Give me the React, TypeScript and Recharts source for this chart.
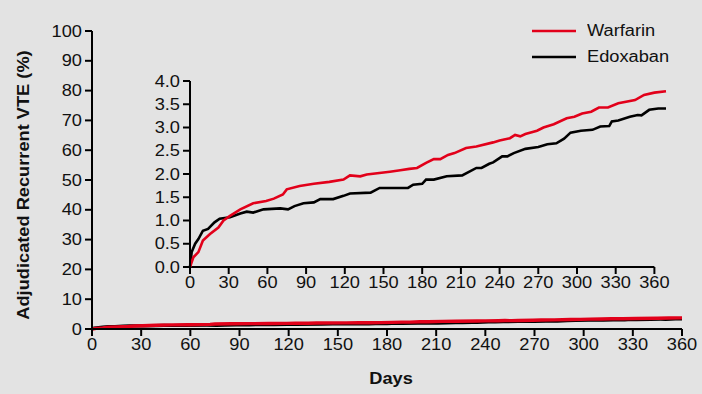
import React from "react";
import { LineChart, Line, XAxis, YAxis, ReferenceLine } from "recharts";

const warfarinDays = [0, 2.6, 6.5, 10, 15.5, 22, 26, 31, 39, 49, 59, 65, 72, 75, 85, 96, 108, 119, 124, 132, 137, 155, 163, 170, 176, 183, 189, 194, 200, 205, 214, 222, 235, 240, 248, 252, 256, 260, 269, 274, 282, 292, 298, 304, 311, 317, 324, 332, 345, 352, 360, 369];
const warfarinValues = [0, 0.21, 0.32, 0.57, 0.71, 0.85, 1.0, 1.1, 1.24, 1.37, 1.42, 1.47, 1.56, 1.67, 1.74, 1.79, 1.83, 1.88, 1.97, 1.95, 1.99, 2.05, 2.08, 2.11, 2.13, 2.24, 2.32, 2.32, 2.41, 2.45, 2.56, 2.59, 2.68, 2.72, 2.77, 2.84, 2.81, 2.86, 2.93, 3.0, 3.07, 3.2, 3.23, 3.3, 3.34, 3.43, 3.43, 3.52, 3.59, 3.7, 3.75, 3.78];

const edoxabanDays = [0, 1.3, 4, 6.5, 10, 14, 19, 23, 31, 39, 44, 49, 57, 70, 76, 81, 88, 96, 101, 111, 119, 124, 140, 147, 169, 173, 180, 183, 189, 199, 211, 222, 226, 232, 235, 242, 246, 251, 260, 270, 277, 284, 290, 295, 303, 312, 318, 325, 327, 332, 341, 347, 350, 356, 363, 369];
const edoxabanValues = [0, 0.32, 0.5, 0.6, 0.78, 0.82, 0.96, 1.04, 1.07, 1.15, 1.19, 1.17, 1.24, 1.26, 1.24, 1.31, 1.37, 1.39, 1.46, 1.46, 1.53, 1.58, 1.6, 1.7, 1.7, 1.77, 1.79, 1.88, 1.88, 1.95, 1.97, 2.13, 2.13, 2.22, 2.25, 2.38, 2.38, 2.45, 2.54, 2.58, 2.64, 2.66, 2.76, 2.89, 2.93, 2.95, 3.02, 3.03, 3.13, 3.15, 3.23, 3.27, 3.26, 3.38, 3.41, 3.41];

const xTicks = [0, 30, 60, 90, 120, 150, 180, 210, 240, 270, 300, 330, 360];
const mainYTicks = [0, 10, 20, 30, 40, 50, 60, 70, 80, 90, 100];
const insetYTicks = [0, 0.5, 1.0, 1.5, 2.0, 2.5, 3.0, 3.5, 4.0];

const seriesNames = ["Warfarin", "Edoxaban"];
const seriesColors = ["#e2001a", "#000000"];

const warfarinData = warfarinDays.map((d, i) => ({ day: d, value: warfarinValues[i] }));
const edoxabanData = edoxabanDays.map((d, i) => ({ day: d, value: edoxabanValues[i] }));

const FONT = "'Liberation Sans', Arial, Helvetica, sans-serif";
const STRETCH = 1.14;
const TEXT_COLOR = "#111";

function makeTick(axis: "x" | "y", fmt?: (v: number) => string) {
  return (props: any) => {
    const { x, y, payload } = props;
    const label = fmt ? fmt(payload.value) : String(payload.value);
    return (
      <g transform={`translate(${x},${y}) scale(${STRETCH},1)`}>
        <text
          x={0}
          y={0}
          dy={axis === "x" ? "0.71em" : "0.355em"}
          textAnchor={axis === "x" ? "middle" : "end"}
          fontSize={16}
          fill={TEXT_COLOR}
          fontFamily={FONT}
        >
          {label}
        </text>
      </g>
    );
  };
}

const xTick = makeTick("x");
const yTick = makeTick("y");
const insetYTick = makeTick("y", (v) => v.toFixed(1));

function LegendBox() {
  return (
    <div style={{ position: "absolute", left: 532, top: 18, fontFamily: FONT }}>
      {seriesNames.map((n, i) => (
        <div key={n} style={{ display: "flex", alignItems: "center", height: 26 }}>
          <svg width={44} height={4} style={{ display: "block" }}>
            <line x1={0} y1={2} x2={44} y2={2} stroke={seriesColors[i]} strokeWidth={2.5} />
          </svg>
          <span
            style={{
              marginLeft: 11,
              fontSize: 16,
              color: TEXT_COLOR,
              display: "inline-block",
              transform: `scaleX(${STRETCH})`,
              transformOrigin: "left center",
            }}
          >
            {n}
          </span>
        </div>
      ))}
    </div>
  );
}

export default function App() {
  return (
    <div
      style={{
        position: "absolute",
        left: 0,
        top: 0,
        width: 702,
        height: 394,
        background: "#e3e3e3",
        fontFamily: FONT,
      }}
    >
      <LineChart width={702} height={394} margin={{ top: 31, right: 20, bottom: 0, left: 0 }}>
        <XAxis
          type="number"
          dataKey="day"
          domain={[0, 360]}
          allowDataOverflow
          ticks={xTicks}
          interval={0}
          tick={xTick}
          tickSize={7}
          tickMargin={3}
          height={65}
          axisLine={{ stroke: "#000", strokeWidth: 2 }}
          tickLine={{ stroke: "#000", strokeWidth: 2 }}
          label={{
            content: (props: any) => {
              const vb = props.viewBox;
              const cx = vb.x + vb.width / 2 + 4;
              const cy = vb.y + 55;
              return (
                <g transform={`translate(${cx},${cy}) scale(${STRETCH},1)`}>
                  <text
                    x={0}
                    y={0}
                    textAnchor="middle"
                    fontSize={16}
                    fontWeight="bold"
                    fill={TEXT_COLOR}
                    fontFamily={FONT}
                  >
                    Days
                  </text>
                </g>
              );
            },
          }}
        />
        <YAxis
          type="number"
          domain={[0, 100]}
          ticks={mainYTicks}
          interval={0}
          tick={yTick}
          tickSize={7}
          tickMargin={3}
          width={92}
          axisLine={{ stroke: "#000", strokeWidth: 2 }}
          tickLine={{ stroke: "#000", strokeWidth: 2 }}
          label={{
            content: (props: any) => {
              const vb = props.viewBox;
              const cx = 29;
              const cy = vb.y + vb.height / 2 + 5;
              return (
                <g transform={`translate(${cx},${cy}) rotate(-90) scale(${STRETCH},1)`}>
                  <text
                    x={0}
                    y={0}
                    textAnchor="middle"
                    fontSize={16}
                    fontWeight="bold"
                    fill={TEXT_COLOR}
                    fontFamily={FONT}
                  >
                    Adjudicated Recurrent VTE (%)
                  </text>
                </g>
              );
            },
          }}
        />
        <Line
          data={edoxabanData}
          dataKey="value"
          name={seriesNames[1]}
          stroke={seriesColors[1]}
          strokeWidth={3.2}
          dot={false}
          type="linear"
          isAnimationActive={false}
        />
        <Line
          data={warfarinData}
          dataKey="value"
          name={seriesNames[0]}
          stroke={seriesColors[0]}
          strokeWidth={3.4}
          dot={false}
          type="linear"
          isAnimationActive={false}
        />
      </LineChart>

      <LegendBox />

      <div style={{ position: "absolute", left: 130, top: 60 }}>
        <LineChart width={560} height={240} margin={{ top: 21, right: 24, bottom: 3, left: 20 }}>
          <XAxis
            type="number"
            dataKey="day"
            domain={[0, 369]}
            ticks={xTicks}
            interval={0}
            tick={xTick}
            tickSize={7}
            tickMargin={3}
            height={30}
            axisLine={false}
            tickLine={{ stroke: "#000", strokeWidth: 2 }}
          />
          <YAxis
            type="number"
            domain={[0, 4]}
            ticks={insetYTicks}
            interval={0}
            tick={insetYTick}
            tickSize={7}
            tickMargin={3}
            width={40}
            axisLine={{ stroke: "#000", strokeWidth: 2 }}
            tickLine={{ stroke: "#000", strokeWidth: 2 }}
          />
          <ReferenceLine
            segment={[
              { x: 0, y: 0 },
              { x: 360, y: 0 },
            ]}
            stroke="#000"
            strokeWidth={2}
          />
          <Line
            data={edoxabanData}
            dataKey="value"
            stroke={seriesColors[1]}
            strokeWidth={2.6}
            dot={false}
            type="linear"
            isAnimationActive={false}
          />
          <Line
            data={warfarinData}
            dataKey="value"
            stroke={seriesColors[0]}
            strokeWidth={2.6}
            dot={false}
            type="linear"
            isAnimationActive={false}
          />
        </LineChart>
      </div>
    </div>
  );
}
